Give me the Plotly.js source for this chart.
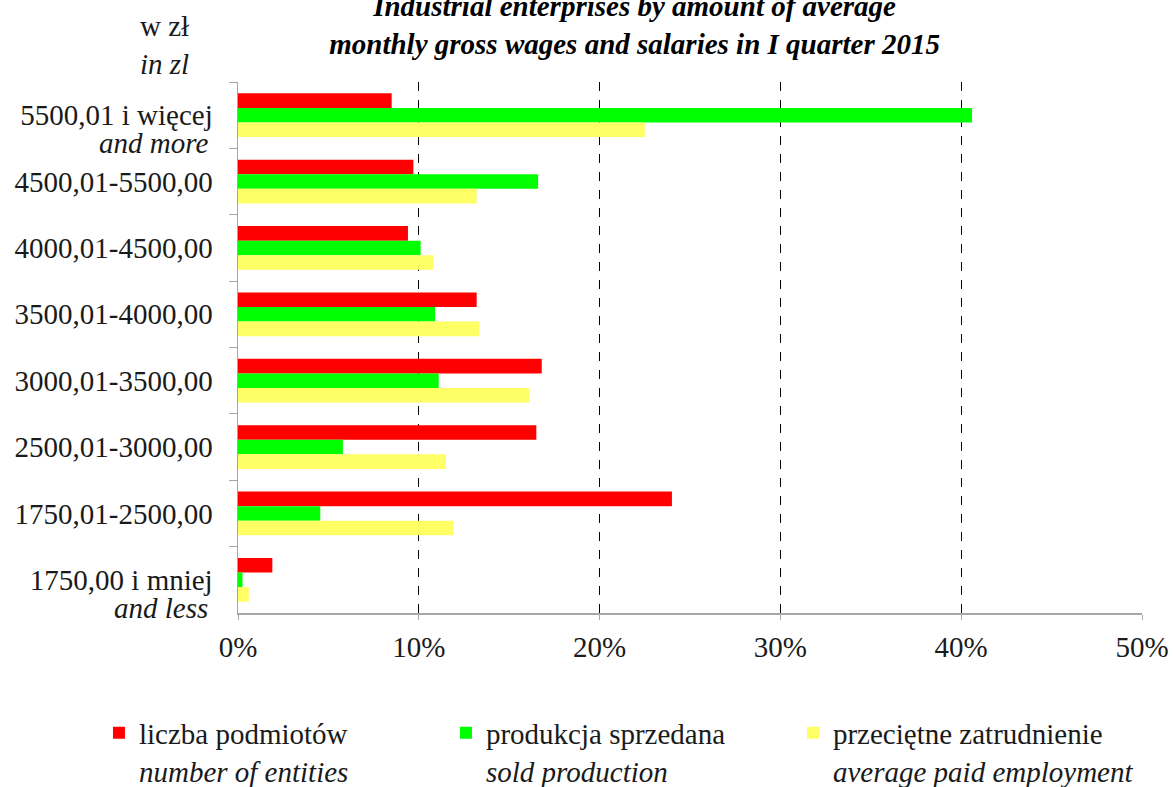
<!DOCTYPE html>
<html>
<head>
<meta charset="utf-8">
<script src="https://cdn.plot.ly/plotly-3.0.1.min.js"></script>
<style>html,body{margin:0;padding:0;background:#fff;}#chart{width:1173px;height:787px;}</style>
</head>
<body>
<div id="chart"></div>
<script>
const categories = [
  "5500,01 i więcej",
  "4500,01-5500,00",
  "4000,01-4500,00",
  "3500,01-4000,00",
  "3000,01-3500,00",
  "2500,01-3000,00",
  "1750,01-2500,00",
  "1750,00 i mniej"
];
const subLabels = ["and more", "", "", "", "", "", "", "and less"];
const entities   = [8.5, 9.7, 9.4, 13.2, 16.8, 16.5, 24.0, 1.9];
const production = [40.6, 16.6, 10.1, 10.9, 11.1, 5.8, 4.55, 0.25];
const employment = [22.5, 13.2, 10.8, 13.35, 16.1, 11.5, 11.9, 0.6];
const seriesNames = [
  "liczba podmiotów<br><i>number of entities</i>",
  "produkcja sprzedana<br><i>sold production</i>",
  "przeciętne zatrudnienie<br><i>average paid employment</i>"
];
const xTicks = [0, 10, 20, 30, 40, 50];
const xTickText = ["0%", "10%", "20%", "30%", "40%", "50%"];

const font = "Liberation Serif";
const fs = 29;

const data = [
  {type: 'bar', orientation: 'h', y: categories, x: entities, name: seriesNames[0], marker: {color: '#ff0000'}},
  {type: 'bar', orientation: 'h', y: categories, x: production, name: seriesNames[1], marker: {color: '#00ff00'}},
  {type: 'bar', orientation: 'h', y: categories, x: employment, name: seriesNames[2], marker: {color: '#ffff66'}}
];

const annotations = [
  {text: 'w zł<br><i>in zl</i>', xref: 'paper', yref: 'paper', x: -0.081, y: 1.0697,
   xanchor: 'center', yanchor: 'middle', showarrow: false,
   font: {family: font, size: fs, color: '#1a1a1a'}}
];
subLabels.forEach((s, i) => {
  if (!s) return;
  annotations.push({
    text: '<i>' + s + '</i>', xref: 'paper', x: 0, xanchor: 'right', xshift: -28,
    yref: 'y', y: categories[i], yanchor: 'middle', yshift: -28,
    showarrow: false, font: {family: font, size: fs, color: '#1a1a1a'}
  });
});

const layout = {
  width: 1173, height: 787,
  margin: {l: 238, r: 31, t: 82, b: 174, autoexpand: false},
  paper_bgcolor: '#fff', plot_bgcolor: '#fff',
  font: {family: font, size: fs, color: '#1a1a1a'},
  barmode: 'group', bargap: 0.34, bargroupgap: 0,
  title: {
    text: '<b><i>Industrial enterprises by amount of average<br>monthly gross wages and salaries in I quarter 2015</i></b>',
    font: {family: font, size: 29, color: '#000'},
    xref: 'container', x: 0.541, xanchor: 'center',
    yref: 'paper', y: 1, yanchor: 'bottom', pad: {b: 66}
  },
  xaxis: {
    range: [0, 50], tickmode: 'array', tickvals: xTicks, ticktext: xTickText,
    showgrid: true, gridcolor: '#000', griddash: 'dash', gridwidth: 1,
    zeroline: false, showline: true, linecolor: '#a6a6a6', linewidth: 1.5,
    ticks: 'outside', ticklen: 5, tickcolor: '#a6a6a6', ticklabelstandoff: 3,
    tickfont: {family: font, size: fs, color: '#1a1a1a'}, fixedrange: true
  },
  yaxis: {
    autorange: false, range: [categories.length - 0.5, -0.5], type: 'category',
    showline: true, linecolor: '#a6a6a6', linewidth: 1.5,
    ticks: 'outside', tickson: 'boundaries', ticklen: 8, tickcolor: '#a6a6a6',
    ticklabelstandoff: 18,
    tickfont: {family: font, size: fs, color: '#1a1a1a'}, showgrid: false
  },
  showlegend: true,
  legend: {
    orientation: 'h', traceorder: 'normal',
    x: -0.1538, xanchor: 'left', y: -0.178, yanchor: 'top',
    valign: 'top', entrywidth: 302, entrywidthmode: 'pixels',
    font: {family: font, size: fs, color: '#1a1a1a'}, itemwidth: 30
  },
  annotations: annotations
};

Plotly.newPlot('chart', data, layout, {displayModeBar: false, staticPlot: true});
</script>
</body>
</html>
